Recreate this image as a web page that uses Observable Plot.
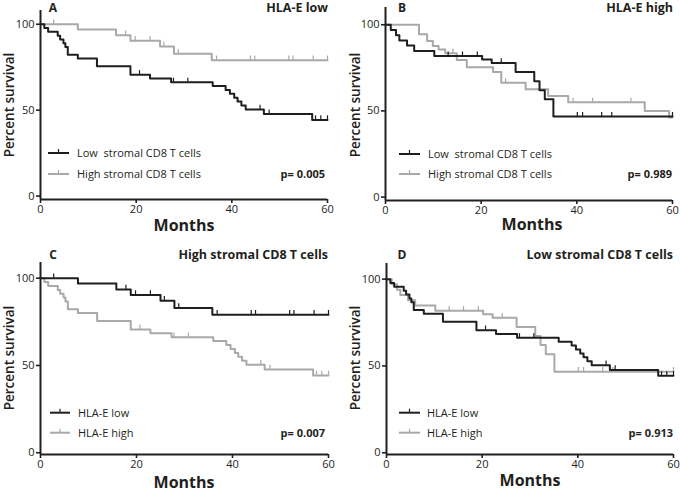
<!DOCTYPE html>
<html><head><meta charset="utf-8">
<script src="https://cdn.jsdelivr.net/npm/d3@7"></script>
<script src="https://cdn.jsdelivr.net/npm/@observablehq/plot@0.6"></script>
<style>
body{margin:0;background:#fff;}
#wrap{position:relative;width:680px;height:496px;font-family:"Open Sans",sans-serif;color:#231f20;overflow:hidden;}
.panel{position:absolute;}
.panel svg{position:absolute;left:0;top:0;overflow:visible;}
.t{position:absolute;white-space:pre;line-height:1.1;}
.c{transform:translate(-50%,-50%);}
.r{transform:translate(-100%,-50%);}
.l{transform:translate(0,-50%);}
.letter{font-weight:700;font-size:12px;}
.title{font-weight:700;font-size:12.5px;}
.months{font-weight:700;font-size:16px;}
.ylab{font-weight:600;font-size:13.5px;transform:translate(-50%,-50%) rotate(-90deg);}
.leg{font-size:11px;}
.pv{font-weight:700;font-size:11px;}
</style></head>
<body><div id="wrap"></div>
<script>
// ---- data ----
const xTicks = [0, 20, 40, 60];
const yTicks = [0, 50, 100];

// Panel A, low stromal CD8 (black)
const aLowSteps = [[0,100],[0.8,97.8],[1.6,95.6],[3.6,93.3],[4.1,91.1],[4.8,88.9],[5.2,86.7],[5.7,82.2],[7.8,80.0],[11.8,75.5],[18.8,70.6],[22.9,68.4],[27.3,66.2],[36,64.0],[38.7,61.8],[39.6,59.5],[40.5,57.2],[41.2,55.0],[42,52.7],[42.9,50.4],[46.7,47.7],[56.8,44.3]];
const aLowCensor = [20.7, 27.8, 30.8, 45.9, 47.8, 57.5, 58.6, 60];
// Panel A, high stromal CD8 (gray)
const aHighSteps = [[0,100],[7.8,96.9],[15.8,93.6],[18.8,90.4],[25,87.1],[27.9,82.9],[35.8,79.1]];
const aHighCensor = [2.75, 17.8, 19.8, 22.9, 25.8, 28.8, 36.8, 43.9, 44.8, 51.9, 52.8, 57, 60];
// Panel B, low stromal CD8 (black)
const bLowSteps = [[0,100],[1.1,97],[2.2,93.9],[2.9,90.9],[4.5,87.9],[6.0,84.8],[10.2,81.8],[20.2,79.8],[22.2,77.8],[27.2,72.5],[31.1,67.2],[32.2,62],[33.3,56.7],[35.1,46.7]];
const bLowCensor = [13.1, 16.1, 19.2, 24.2, 40.1, 41.2, 45.2, 47.3, 60];
// Panel B, high stromal CD8 (gray)
const bHighSteps = [[0,100],[7.0,94.5],[8.7,90.5],[9.9,87.6],[11.1,85.6],[12.5,83.5],[14.9,79.5],[17.0,75.3],[22.5,72.5],[24.2,66.3],[29.3,62.5],[34.0,58.7],[38.2,55.0],[54.2,50.0],[59.3,46.2]];
const bHighCensor = [14.1, 25.1, 39.2, 43.3, 51.3, 60];

const panelLetters = ["A", "B", "C", "D"];
const panelTitles = ["HLA-E low", "HLA-E high", "High stromal CD8 T cells", "Low stromal CD8 T cells"];
const legendLabels = [
  ["Low  stromal CD8 T cells", "High stromal CD8 T cells"],
  ["Low  stromal CD8 T cells", "High stromal CD8 T cells"],
  ["HLA-E low", "HLA-E high"],
  ["HLA-E low", "HLA-E high"]
];
const pValues = ["p= 0.005", "p= 0.989", "p= 0.007", "p= 0.913"];
const xLabel = "Months";
const yLabel = "Percent survival";

// ---- helpers ----
const BLACK = "#1e1e1e", GRAY = "#a9a9a9";
function stepAt(steps, t) { let s = steps[0][1]; for (const [tt, ss] of steps) if (tt <= t) s = ss; return s; }
function km(steps, censor) {
  const line = steps.map(([t, s]) => ({t, s}));
  line.push({t: 60, s: steps[steps.length - 1][1]});
  const ticks = censor.map(t => ({t, s: stepAt(steps, t)}));
  return {line, ticks};
}
const curves = {
  aLow: km(aLowSteps, aLowCensor), aHigh: km(aHighSteps, aHighCensor),
  bLow: km(bLowSteps, bLowCensor), bHigh: km(bHighSteps, bHighCensor)
};
// [black series, gray series] per panel as drawn in the figure
const panelSeries = [["aLow","aHigh"],["bLow","bHigh"],["aHigh","aLow"],["aLow","bLow"]];

// ---- layout (positions only) ----
const layout = [
  {left:0, top:0, w:340, h:240, m:[10,13,41,40], ydom:[-2,108], letter:[53,8], title:[328,8], leg:{x1:48,x2:69,tx:77,y:[153,174]}, p:[325,174], months:[184,226], ylab:[9,104.5]},
  {left:340, top:0, w:340, h:240, m:[7,8,40,45], ydom:[-2,110], letter:[62,8], title:[333,8], leg:{x1:59,x2:80,tx:88,y:[154,174]}, p:[332,174], months:[192,225], ylab:[15,105]},
  {left:0, top:240, w:340, h:256, m:[22,12,42,40], ydom:[-1,109], letter:[53,15], title:[328,15], leg:{x1:50,x2:70,tx:78,y:[172.7,192.7]}, p:[325,192.7], months:[184,243], ylab:[9,118]},
  {left:340, top:240, w:340, h:256, m:[23,7,42,46], ydom:[-1,109], letter:[62,15], title:[333,15], leg:{x1:59,x2:80,tx:87,y:[172.7,192.7]}, p:[333,192.7], months:[190,241], ylab:[15,118]}
];

const wrap = document.getElementById("wrap");
function addText(parent, txt, cls, x, y) {
  const d = document.createElement("div");
  d.className = "t " + cls; d.textContent = txt;
  d.style.left = x + "px"; d.style.top = y + "px";
  parent.appendChild(d);
}

layout.forEach((L, i) => {
  const [blackKey, grayKey] = panelSeries[i];
  const black = curves[blackKey], gray = curves[grayKey];
  const panel = document.createElement("div");
  panel.className = "panel";
  Object.assign(panel.style, {left: L.left + "px", top: L.top + "px", width: L.w + "px", height: L.h + "px"});
  const chart = Plot.plot({
    width: L.w, height: L.h,
    marginTop: L.m[0], marginRight: L.m[1], marginBottom: L.m[2], marginLeft: L.m[3],
    style: {fontFamily: '"Open Sans", sans-serif', fontSize: "11px", color: "#231f20", background: "transparent"},
    x: {domain: [0, 60]},
    y: {domain: L.ydom},
    marks: [
      Plot.line(gray.line, {x: "t", y: "s", curve: "step-after", stroke: GRAY, strokeWidth: 2}),
      Plot.ruleX(gray.ticks, {x: "t", y1: "s", y2: d => d.s + 2.4, stroke: GRAY, strokeWidth: 1.2}),
      Plot.line(black.line, {x: "t", y: "s", curve: "step-after", stroke: BLACK, strokeWidth: 2}),
      Plot.ruleX(black.ticks, {x: "t", y1: "s", y2: d => d.s + 2.4, stroke: BLACK, strokeWidth: 1.2}),
      Plot.axisX({ticks: xTicks, tickSize: 4, tickPadding: 2, label: null, strokeWidth: 1.6, fontSize: 11}),
      Plot.axisY({ticks: yTicks, tickSize: 4, tickPadding: 2, label: null, strokeWidth: 1.6, fontSize: 11}),
      Plot.ruleX([0], {stroke: "#231f20", strokeWidth: 2}),
      Plot.ruleY([L.ydom[0]], {stroke: "#231f20", strokeWidth: 2})
    ]
  });
  panel.appendChild(chart);
  addText(panel, panelLetters[i], "letter c", L.letter[0], L.letter[1]);
  addText(panel, panelTitles[i], "title r", L.title[0], L.title[1]);
  addText(panel, xLabel, "months c", L.months[0], L.months[1]);
  addText(panel, yLabel, "ylab", L.ylab[0], L.ylab[1]);
  addText(panel, pValues[i], "pv r", L.p[0], L.p[1]);
  // legend
  [BLACK, GRAY].forEach((col, k) => {
    const y = L.leg.y[k];
    const ns = "http://www.w3.org/2000/svg";
    const s = document.createElementNS(ns, "svg");
    s.setAttribute("width", L.w); s.setAttribute("height", L.h);
    s.style.pointerEvents = "none";
    const ln = document.createElementNS(ns, "line");
    Object.entries({x1: L.leg.x1, x2: L.leg.x2, y1: y, y2: y, stroke: col, "stroke-width": 2}).forEach(([a, v]) => ln.setAttribute(a, v));
    const tk = document.createElementNS(ns, "line");
    const mx = (L.leg.x1 + L.leg.x2) / 2;
    Object.entries({x1: mx, x2: mx, y1: y, y2: y - 4, stroke: col, "stroke-width": 1.2}).forEach(([a, v]) => tk.setAttribute(a, v));
    s.appendChild(ln); s.appendChild(tk);
    panel.appendChild(s);
    addText(panel, legendLabels[i][k], "leg l", L.leg.tx, y);
  });
  wrap.appendChild(panel);
});
</script>
</body></html>
